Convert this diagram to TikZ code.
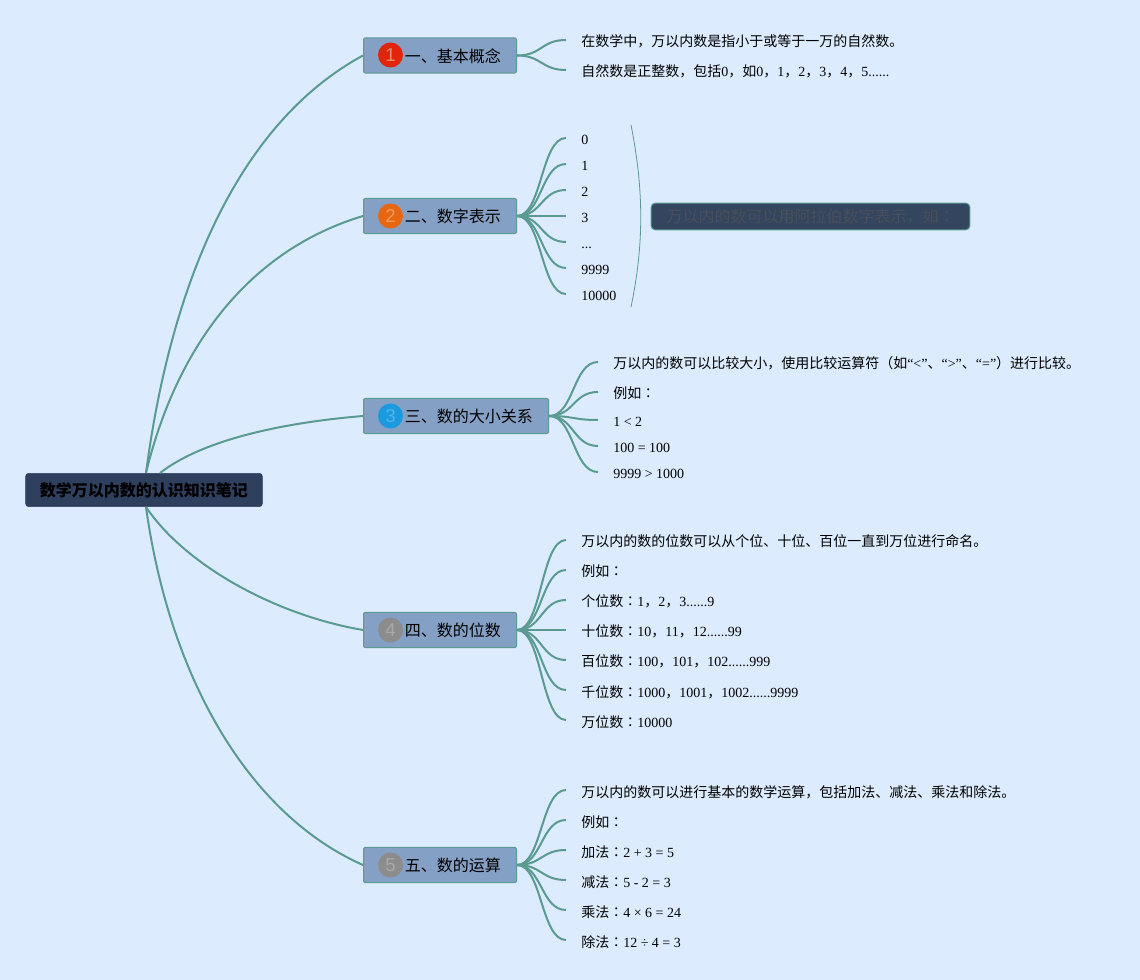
\documentclass[tikz,border=0pt]{standalone}
\usepackage{fontspec}
\setmainfont{Liberation Serif}
\setsansfont{Liberation Sans}
\newfontfamily\cjkfont{Noto Sans CJK SC}
\newfontfamily\cjkalt{Noto Sans CJK TC}
\newcommand{\zh}[1]{{\cjkfont #1}}
\newcommand{\cln}{{\cjkalt ：}}
\definecolor{bgc}{HTML}{DCECFE}
\definecolor{linec}{HTML}{5A9A90}
\definecolor{rootc}{HTML}{2F3F5E}
\definecolor{topicc}{HTML}{84A0C5}
\definecolor{sumc}{HTML}{33455F}
\definecolor{sumt}{HTML}{4B5059}
\definecolor{ired}{HTML}{E0250A}
\definecolor{iorange}{HTML}{E8660F}
\definecolor{iblue}{HTML}{1A9BE0}
\definecolor{igray}{HTML}{8C8C8C}
\tikzset{
  rootbox/.style={draw=rootc,fill=rootc,rounded corners=2.2pt,minimum width=177.5pt,minimum height=25pt,inner sep=0pt,font=\fontsize{12}{14}\selectfont\bfseries,text=black},
  topicbox/.style={draw=linec,line width=.75pt,fill=topicc,rounded corners=1.5pt,minimum height=26.5pt,inner ysep=0pt,inner xsep=0pt,anchor=west,text height=11.5pt,text depth=1.2pt,font=\fontsize{12}{14}\selectfont,text=black},
  sumbox/.style={draw=linec,line width=.75pt,fill=sumc,rounded corners=3pt,minimum width=239pt,minimum height=20pt,inner sep=0pt,font=\fontsize{12}{14}\selectfont,text=sumt},
  leaf/.style={anchor=west,inner xsep=11.25pt,inner ysep=0pt,text height=11.5pt,text depth=1pt,font=\fontsize{10.5}{12}\selectfont,text=black},
  icon/.style={circle,minimum size=18.75pt,inner sep=0pt,font=\sffamily\fontsize{14}{16}\selectfont},
  branch/.style={draw=linec,line width=1.5pt},
  twig/.style={draw=linec,line width=1.5pt},
  brace/.style={draw=linec,line width=.6pt}
}
\begin{document}
\begin{tikzpicture}[x=0.75pt,y=-0.75pt]
\useasboundingbox[fill=bgc] (0,0) rectangle (1140,980);
\node[rootbox] (root) at (144,490) {\zh{数学万以内数的认识知识笔记}};
\coordinate (rn) at (146,473);
\coordinate (rm) at (160,473);
\coordinate (rs) at (146,507);
\node[topicbox,minimum width=114.75pt] (t1) at (363,55.5) {\hspace*{31.1pt}\zh{一、基本概念}\hspace*{11.65pt}};
\node[topicbox,minimum width=114.75pt] (t2) at (363,216) {\hspace*{31.1pt}\zh{二、数字表示}\hspace*{11.65pt}};
\node[topicbox,minimum width=138.75pt] (t3) at (363,416) {\hspace*{31.1pt}\zh{三、数的大小关系}\hspace*{11.65pt}};
\node[topicbox,minimum width=114.75pt] (t4) at (363,630) {\hspace*{31.1pt}\zh{四、数的位数}\hspace*{11.65pt}};
\node[topicbox,minimum width=114.75pt] (t5) at (363,865) {\hspace*{31.1pt}\zh{五、数的运算}\hspace*{11.65pt}};
\node[icon,fill=ired,text=ired!55!white] (i1) at (390.5,55) {1};
\node[icon,fill=iorange,text=iorange!65!white] (i2) at (390.5,216) {2};
\node[icon,fill=iblue,text=iblue!75!white] (i3) at (390.5,416) {3};
\node[icon,fill=igray,text=igray!75!white] (i4) at (390.5,630) {4};
\node[icon,fill=igray,text=igray!75!white] (i5) at (390.5,865) {5};
% leaves
\node[leaf] (a1) at (566,40) {\zh{在数学中，万以内数是指小于或等于一万的自然数。}};
\node[leaf] (a2) at (566,70) {\zh{自然数是正整数，包括}0\zh{，如}0\zh{，}1\zh{，}2\zh{，}3\zh{，}4\zh{，}5......};
\node[leaf] (b1) at (566,138) {0};
\node[leaf] (b2) at (566,164) {1};
\node[leaf] (b3) at (566,190) {2};
\node[leaf] (b4) at (566,216) {3};
\node[leaf] (b5) at (566,242) {...};
\node[leaf] (b6) at (566,268) {9999};
\node[leaf] (b7) at (566,294) {10000};
\node[leaf] (c1) at (598,362) {\zh{万以内的数可以比较大小，使用比较运算符（如}“<”\zh{、}“>”\zh{、}“=”\zh{）进行比较。}};
\node[leaf] (c2) at (598,392) {\zh{例如}\cln};
\node[leaf] (c3) at (598,420) {1 < 2};
\node[leaf] (c4) at (598,446) {100 = 100};
\node[leaf] (c5) at (598,472) {9999 > 1000};
\node[leaf] (d1) at (566,540) {\zh{万以内的数的位数可以从个位、十位、百位一直到万位进行命名。}};
\node[leaf] (d2) at (566,570) {\zh{例如}\cln};
\node[leaf] (d3) at (566,600) {\zh{个位数}\cln 1\zh{，}2\zh{，}3......9};
\node[leaf] (d4) at (566,630) {\zh{十位数}\cln 10\zh{，}11\zh{，}12......99};
\node[leaf] (d5) at (566,660) {\zh{百位数}\cln 100\zh{，}101\zh{，}102......999};
\node[leaf] (d6) at (566,690) {\zh{千位数}\cln 1000\zh{，}1001\zh{，}1002......9999};
\node[leaf] (d7) at (566,720) {\zh{万位数}\cln 10000};
\node[leaf] (e1) at (566,790) {\zh{万以内的数可以进行基本的数学运算，包括加法、减法、乘法和除法。}};
\node[leaf] (e2) at (566,820) {\zh{例如}\cln};
\node[leaf] (e3) at (566,850) {\zh{加法}\cln 2 + 3 = 5};
\node[leaf] (e4) at (566,880) {\zh{减法}\cln 5 - 2 = 3};
\node[leaf] (e5) at (566,910) {\zh{乘法}\cln 4 × 6 = 24};
\node[leaf] (e6) at (566,940) {\zh{除法}\cln 12 ÷ 4 = 3};
\node[sumbox] (s) at (810.5,216.5) {\zh{万以内的数可以用阿拉伯数字表示，如}{\cjkalt ：}};
\coordinate (bt) at (631,125);
\coordinate (bb) at (631,307);
% root branches
\draw[branch] (rn) .. controls (170,290) and (235,125) .. (t1.west);
\draw[branch] (rn) .. controls (177,345) and (250,250) .. (t2.west);
\draw[branch] (rm) .. controls (205,438) and (290,422) .. (t3.west);
\draw[branch] (rs) .. controls (185,565) and (275,615) .. (t4.west);
\draw[branch] (rs) .. controls (170,680) and (250,815) .. (t5.west);
% twigs
\foreach \n in {a1,a2} \draw[twig] (t1.east) .. controls +(25,0) and +(-25,0) .. (\n.west);
\foreach \n in {b1,b2,b3,b4,b5,b6,b7} \draw[twig] (t2.east) .. controls +(25,0) and +(-25,0) .. (\n.west);
\foreach \n in {c1,c2,c3,c4,c5} \draw[twig] (t3.east) .. controls +(25,0) and +(-25,0) .. (\n.west);
\foreach \n in {d1,d2,d3,d4,d5,d6,d7} \draw[twig] (t4.east) .. controls +(25,0) and +(-25,0) .. (\n.west);
\foreach \n in {e1,e2,e3,e4,e5,e6} \draw[twig] (t5.east) .. controls +(25,0) and +(-25,0) .. (\n.west);
\draw[brace] (bt) .. controls (644,190) and (644,245) .. (bb);
\end{tikzpicture}
\end{document}
